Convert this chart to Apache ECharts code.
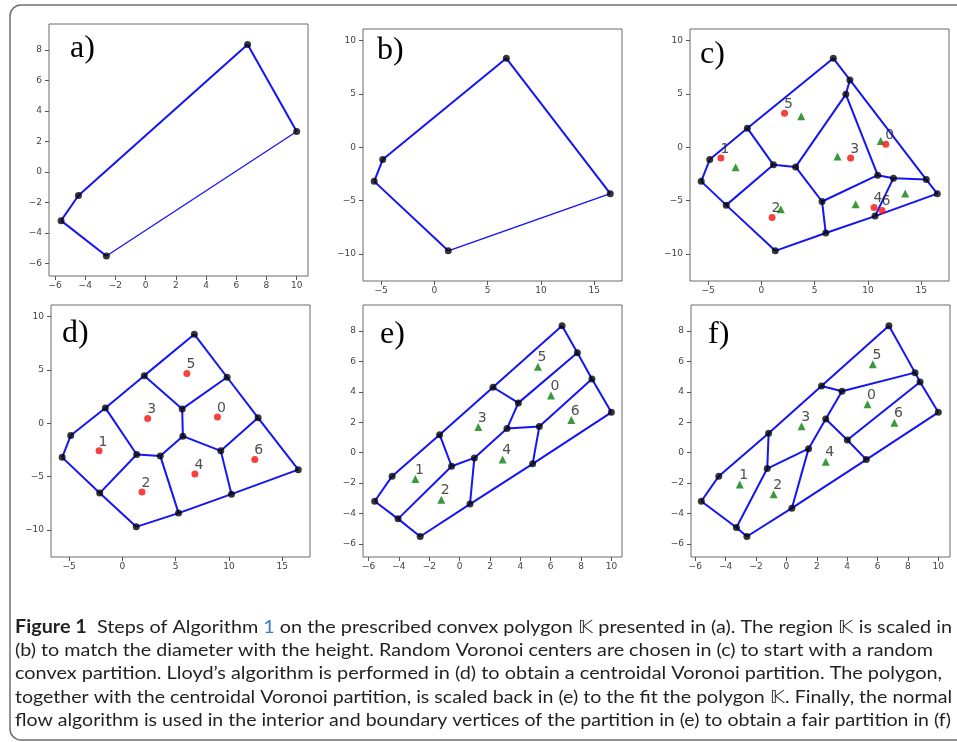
<!DOCTYPE html>
<html><head><meta charset="utf-8">
<script src="https://cdn.jsdelivr.net/npm/echarts@6/dist/echarts.min.js"></script>
<style>html,body{margin:0;padding:0;background:#fff}#c{width:957px;height:742px}</style>
</head><body><div id="c"></div>
<script>
// ---------- DATA ----------
// tick labels
const ticksSmallX = [-6, -4, -2, 0, 2, 4, 6, 8, 10];
const ticksSmallY = [-6, -4, -2, 0, 2, 4, 6, 8];
const ticksBigX = [-5, 0, 5, 10, 15];
const ticksBigY = [-10, -5, 0, 5, 10];

// (a) prescribed polygon K (last -> first edge is the thin one)
const polyA = [[-2.6, -5.52], [-5.6, -3.2], [-4.45, -1.55], [6.75, 8.35], [10, 2.65]];
// (b) scaled polygon
const polyB = [[1.3, -9.72], [-5.65, -3.2], [-4.85, -1.15], [6.75, 8.35], [16.5, -4.35]];

// (c) random Voronoi partition
const vertsC = [[-5.65, -3.2], [-4.85, -1.15], [-1.32, 1.79], [6.75, 8.35], [8.30, 6.32], [15.47, -3.03],
  [16.5, -4.35], [10.66, -6.46], [6.04, -8.05], [1.3, -9.72], [-3.3, -5.43], [1.13, -1.65], [3.21, -1.84],
  [7.92, 4.97], [5.69, -5.09], [10.91, -2.62], [12.39, -2.9]];
const edgesC = [[0, 1], [1, 2], [2, 3], [3, 4], [4, 5], [5, 6], [6, 7], [7, 8], [8, 9], [9, 10], [10, 0],
  [2, 11], [11, 10], [11, 12], [12, 13], [13, 4], [13, 15], [12, 14], [14, 8], [14, 15], [15, 16], [16, 5], [16, 7]];
const labelsC = ['0', '1', '2', '3', '4', '5', '6'];
const centersC = [[11.67, 0.29], [-3.8, -1.0], [1.0, -6.6], [8.37, -1.0], [10.57, -5.65], [2.17, 3.2], [11.32, -5.93]];
const centroidsC = [[11.19, 0.6], [-2.42, -1.87], [1.82, -5.81], [7.14, -0.87], [8.84, -5.34], [3.74, 2.91], [13.49, -4.34]];

// (d) centroidal Voronoi partition (Lloyd)
const vertsD = [[-5.65, -3.2], [-4.85, -1.15], [-1.6, 1.44], [2.05, 4.47], [6.75, 8.35], [9.82, 4.32], [12.73, 0.51],
  [16.5, -4.35], [10.23, -6.65], [5.27, -8.43], [1.3, -9.72], [-2.13, -6.55], [5.61, 1.35], [5.67, -1.21],
  [1.34, -2.93], [3.55, -3.06], [9.23, -2.59]];
const edgesD = [[0, 1], [1, 2], [2, 3], [3, 4], [4, 5], [5, 6], [6, 7], [7, 8], [8, 9], [9, 10], [10, 11], [11, 0],
  [3, 12], [12, 5], [12, 13], [2, 14], [14, 11], [14, 15], [15, 13], [13, 16], [16, 6], [16, 8], [15, 9]];
const labelsD = ['0', '1', '2', '3', '4', '5', '6'];
const centersD = [[8.92, 0.6], [-2.19, -2.59], [1.84, -6.46], [2.37, 0.44], [6.8, -4.77], [6.05, 4.66], [12.42, -3.4]];

// (e) scaled back
const vertsE = [[-5.6, -3.2], [-4.45, -1.55], [-1.32, 1.18], [2.2, 4.3], [6.75, 8.35], [7.76, 6.57], [8.72, 4.84],
  [10, 2.65], [4.81, -0.74], [0.68, -3.39], [-2.6, -5.52], [-4.06, -4.36], [3.87, 3.27], [3.12, 1.58],
  [5.25, 1.71], [0.97, -0.35], [-0.53, -0.9]];
const edgesE = [[0, 1], [1, 2], [2, 3], [3, 4], [4, 5], [5, 6], [6, 7], [7, 8], [8, 9], [9, 10], [10, 11], [11, 0],
  [3, 12], [12, 5], [12, 13], [13, 14], [14, 6], [14, 8], [13, 15], [15, 16], [15, 9], [2, 16], [16, 11]];
const labelsE = ['0', '1', '2', '3', '4', '5', '6'];
const centroidsE = [[6.02, 3.75], [-2.92, -1.73], [-1.21, -3.11], [1.23, 1.69], [2.83, -0.46], [5.16, 5.65], [7.36, 2.15]];

// (f) fair partition after normal flow
const vertsF = [[-5.6, -3.2], [-4.45, -1.55], [-1.17, 1.27], [2.31, 4.38], [6.75, 8.35], [8.47, 5.26], [8.8, 4.65],
  [10, 2.65], [5.26, -0.46], [0.36, -3.66], [-2.6, -5.52], [-3.29, -4.93], [3.66, 4.03], [2.59, 2.21],
  [4.01, 0.83], [1.46, 0.26], [-1.26, -1.05]];
const edgesF = [[0, 1], [1, 2], [2, 3], [3, 4], [4, 5], [5, 6], [6, 7], [7, 8], [8, 9], [9, 10], [10, 11], [11, 0],
  [3, 12], [12, 5], [12, 13], [13, 14], [14, 6], [14, 8], [13, 15], [15, 16], [15, 9], [2, 16], [16, 11]];
const labelsF = ['0', '1', '2', '3', '4', '5', '6'];
const centroidsF = [[5.34, 3.18], [-3.07, -2.1], [-0.84, -2.74], [1.0, 1.73], [2.59, -0.61], [5.69, 5.81], [7.11, 1.97]];

const panelLetters = ['a)', 'b)', 'c)', 'd)', 'e)', 'f)'];
const captionLines = [
  [['Figure 1', 'bold', '#231f20'], ['  Steps of Algorithm ', 'normal', '#231f20'], ['1', 'normal', '#3a78c3'],
   [' on the prescribed convex polygon \u{1D542} presented in (a). The region \u{1D542} is scaled in', 'normal', '#231f20']],
  [['(b) to match the diameter with the height. Random Voronoi centers are chosen in (c) to start with a random', 'normal', '#231f20']],
  [['convex partition. Lloyd\u2019s algorithm is performed in (d) to obtain a centroidal Voronoi partition. The polygon,', 'normal', '#231f20']],
  [['together with the centroidal Voronoi partition, is scaled back in (e) to the fit the polygon \u{1D542}. Finally, the normal', 'normal', '#231f20']],
  [['flow algorithm is used in the interior and boundary vertices of the partition in (e) to obtain a fair partition in (f)', 'normal', '#231f20']]
];

// ---------- LAYOUT ----------
const BLUE = '#1414f5';
const layout = [
  {left: 49, top: 24, x: [-6.4, 10.75], y: [-6.83, 9.7], xt: ticksSmallX, yt: ticksSmallY, lx: 70, ly: 49},
  {left: 363, top: 29, x: [-6.7, 17.6], y: [-12.55, 11.1], xt: ticksBigX, yt: ticksBigY, lx: 377, ly: 51},
  {left: 690, top: 29, x: [-6.7, 17.6], y: [-12.55, 11.1], xt: ticksBigX, yt: ticksBigY, lx: 700, ly: 55},
  {left: 51, top: 305, x: [-6.7, 17.6], y: [-12.55, 11.1], xt: ticksBigX, yt: ticksBigY, lx: 62, ly: 334},
  {left: 363, top: 305, x: [-6.37, 10.7], y: [-6.87, 9.71], xt: ticksSmallX, yt: ticksSmallY, lx: 380, ly: 335},
  {left: 691, top: 305, x: [-6.28, 10.77], y: [-6.87, 9.71], xt: ticksSmallX, yt: ticksSmallY, lx: 708, ly: 335}
];
const fmt = v => String(v).replace('-', '\u2212');

const grids = [], xAxes = [], yAxes = [], series = [], graphics = [];
layout.forEach((p, i) => {
  grids.push({left: p.left, top: p.top, width: 259, height: 252, show: true,
    borderColor: '#6a6a6a', borderWidth: 1, backgroundColor: 'transparent'});
  xAxes.push({type: 'value', gridIndex: i, min: p.x[0], max: p.x[1], position: 'bottom',
    axisLine: {show: false, onZero: false}, splitLine: {show: false},
    axisTick: {show: true, length: 4, inside: false, lineStyle: {color: '#555'}, customValues: p.xt},
    axisLabel: {customValues: p.xt, fontSize: 9, fontFamily: 'DejaVu Sans', color: '#444', margin: 5, formatter: fmt}});
  yAxes.push({type: 'value', gridIndex: i, min: p.y[0], max: p.y[1], position: 'left',
    axisLine: {show: false, onZero: false}, splitLine: {show: false},
    axisTick: {show: true, length: 4, inside: false, lineStyle: {color: '#555'}, customValues: p.yt},
    axisLabel: {customValues: p.yt, fontSize: 9, fontFamily: 'DejaVu Sans', color: '#444', margin: 7, formatter: fmt}});
  graphics.push({type: 'text', x: p.lx, y: p.ly, z: 100,
    style: {text: panelLetters[i], fontSize: 32, fontFamily: 'Liberation Serif', fill: '#000',
      align: 'left', verticalAlign: 'middle', textAlign: 'left', textVerticalAlign: 'middle'}});
});

function edgeLines(verts, edges) {
  return edges.map(([a, b]) => ({coords: [verts[a], verts[b]]}));
}
function polyEdges(poly) {
  const e = [];
  for (let k = 0; k < poly.length - 1; k++) e.push([k, k + 1]);
  return e;
}
function addLines(i, data, width) {
  series.push({type: 'lines', coordinateSystem: 'cartesian2d', xAxisIndex: i, yAxisIndex: i, z: 2,
    data: data, lineStyle: {color: BLUE, width: width, opacity: 1}, silent: true});
}
function addVerts(i, verts) {
  series.push({type: 'scatter', xAxisIndex: i, yAxisIndex: i, z: 3, symbol: 'circle', symbolSize: 7,
    itemStyle: {color: '#050505'}, data: verts, silent: true});
}
const labelCfg = {show: true, position: 'inside', offset: [4, -9], fontSize: 14, fontFamily: 'DejaVu Sans',
  color: '#222', formatter: p => p.name};
function addMarks(i, pts, names, kind, withLabels) {
  series.push({type: 'scatter', xAxisIndex: i, yAxisIndex: i, z: 4,
    symbol: kind === 'red' ? 'circle' : 'triangle', symbolSize: kind === 'red' ? 7 : 8,
    itemStyle: {color: kind === 'red' ? '#f51010' : '#0a800a'},
    label: withLabels ? labelCfg : {show: false},
    data: pts.map((c, k) => ({name: names ? names[k] : '', value: c})), silent: true});
}

// (a) — closing edge is drawn thinner
addLines(0, edgeLines(polyA, polyEdges(polyA)), 2);
addLines(0, [{coords: [polyA[polyA.length - 1], polyA[0]]}], 1.3);
addVerts(0, polyA);
// (b)
addLines(1, edgeLines(polyB, polyEdges(polyB)), 2);
addLines(1, [{coords: [polyB[polyB.length - 1], polyB[0]]}], 1.5);
addVerts(1, polyB);
// (c)
addLines(2, edgeLines(vertsC, edgesC), 2);
addVerts(2, vertsC);
addMarks(2, centroidsC, null, 'green', false);
addMarks(2, centersC, labelsC, 'red', true);
// (d)
addLines(3, edgeLines(vertsD, edgesD), 2);
addVerts(3, vertsD);
addMarks(3, centersD, labelsD, 'red', true);
// (e)
addLines(4, edgeLines(vertsE, edgesE), 2);
addVerts(4, vertsE);
addMarks(4, centroidsE, labelsE, 'green', true);
// (f)
addLines(5, edgeLines(vertsF, edgesF), 2);
addVerts(5, vertsF);
addMarks(5, centroidsF, labelsF, 'green', true);

// outer frame
graphics.push({type: 'rect', z: -10, shape: {x: 10, y: 5, width: 990, height: 735, r: 11},
  style: {fill: 'none', stroke: '#707070', lineWidth: 1.5}});

// caption
const CAP_FONT = 'Lato';
const CAP_SIZE = 18;
const capX = 15;
const capY = [627, 650, 673, 697, 720];
const capEnd = [952, 933, 942, 952, 951];
const ctx = document.createElement('canvas').getContext('2d');
captionLines.forEach((line, li) => {
  let xx = 0;
  const children = [];
  line.forEach(([t, w, col]) => {
    ctx.font = `${w} ${CAP_SIZE}px ${CAP_FONT}`;
    children.push({type: 'text', x: xx, y: 0,
      style: {text: t, fontSize: CAP_SIZE, fontFamily: CAP_FONT, fontWeight: w, fill: col,
        align: 'left', verticalAlign: 'middle', textAlign: 'left', textVerticalAlign: 'middle'}});
    xx += ctx.measureText(t).width;
  });
  const s = (capEnd[li] - capX) / xx;
  graphics.push({type: 'group', x: capX, y: capY[li], scaleX: s, children: children});
});

const chart = echarts.init(document.getElementById('c'), null, {renderer: 'canvas'});
chart.setOption({
  animation: false,
  backgroundColor: '#fff',
  grid: grids, xAxis: xAxes, yAxis: yAxes, series: series, graphic: graphics
});
</script></body></html>
